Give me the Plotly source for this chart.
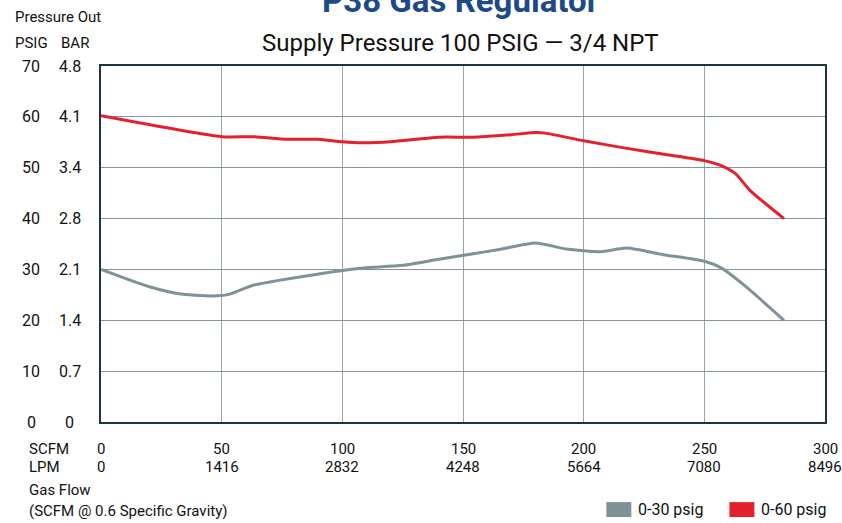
import plotly.graph_objects as go

FONT = "Liberation Sans Narrow, Roboto, sans-serif"

# Data
flow_30 = [0, 20, 34, 48, 53, 63, 73, 89, 100, 109, 125, 140, 153, 165, 180, 193, 207, 218, 233, 250, 257, 267, 283]
psig_30 = [30.0, 26.6, 25.1, 24.8, 25.1, 26.9, 27.8, 29.0, 29.8, 30.3, 30.8, 32.0, 33.0, 33.9, 35.2, 34.0, 33.5, 34.2, 32.9, 31.6, 30.3, 26.7, 20.0]

flow_60 = [0, 50, 63, 77, 90, 100, 109, 120, 140, 154, 170, 180, 184, 200, 218, 234, 250, 257, 263, 269, 283]
psig_60 = [60.2, 56.1, 56.1, 55.6, 55.6, 55.1, 54.9, 55.1, 56.0, 56.0, 56.5, 56.9, 56.8, 55.3, 53.8, 52.6, 51.4, 50.4, 48.8, 45.5, 40.0]

psig_ticks = [0, 10, 20, 30, 40, 50, 60, 70]
bar_ticks = ["0", "0.7", "1.4", "2.1", "2.8", "3.4", "4.1", "4.8"]
scfm_ticks = [0, 50, 100, 150, 200, 250, 300]
lpm_ticks = ["0", "1416", "2832", "4248", "5664", "7080", "8496"]

series_names = ["0-30 psig", "0-60 psig"]
series_colors = ["#7f9297", "#e3202d"]

fig = go.Figure()
fig.add_trace(go.Scatter(x=flow_30, y=psig_30, mode="lines", name=series_names[0],
                         line=dict(color=series_colors[0], width=3, shape="spline", smoothing=0.6)))
fig.add_trace(go.Scatter(x=flow_60, y=psig_60, mode="lines", name=series_names[1],
                         line=dict(color=series_colors[1], width=3, shape="spline", smoothing=0.6)))

TXT = "#111"
annotations = []
# Title (cut at top)
annotations.append(dict(text="<b>P38 Gas Regulator</b>", xref="paper", yref="paper", x=0.496, y=1.185,
                        xanchor="center", yanchor="middle", showarrow=False,
                        font=dict(family=FONT, size=33, color="#1d4a86")))
annotations.append(dict(text="Supply Pressure 100 PSIG — 3/4 NPT", xref="paper", yref="paper", x=0.496, y=1.064,
                        xanchor="center", yanchor="middle", showarrow=False,
                        font=dict(family=FONT, size=24, color=TXT)))
annotations.append(dict(text="Pressure Out", xref="paper", yref="paper", x=-0.122, y=1.138,
                        xanchor="left", yanchor="middle", showarrow=False,
                        font=dict(family=FONT, size=15, color=TXT)))
annotations.append(dict(text="PSIG", xref="paper", yref="paper", x=-0.122, y=1.064,
                        xanchor="left", yanchor="middle", showarrow=False,
                        font=dict(family=FONT, size=15, color=TXT)))
annotations.append(dict(text="BAR", xref="paper", yref="paper", x=-0.058, y=1.064,
                        xanchor="left", yanchor="middle", showarrow=False,
                        font=dict(family=FONT, size=15, color=TXT)))
for v, b in zip(psig_ticks, bar_ticks):
    annotations.append(dict(text=str(v), x=-0.096, xref="paper", y=v, yref="y",
                            xanchor="center", yanchor="middle", showarrow=False,
                            font=dict(family=FONT, size=16, color=TXT)))
    annotations.append(dict(text=b, x=-0.043, xref="paper", y=v, yref="y",
                            xanchor="center", yanchor="middle", showarrow=False,
                            font=dict(family=FONT, size=16, color=TXT)))
annotations.append(dict(text="SCFM", xref="paper", yref="paper", x=-0.102, y=-0.076,
                        xanchor="left", yanchor="middle", showarrow=False,
                        font=dict(family=FONT, size=15, color=TXT)))
annotations.append(dict(text="LPM", xref="paper", yref="paper", x=-0.102, y=-0.127,
                        xanchor="left", yanchor="middle", showarrow=False,
                        font=dict(family=FONT, size=15, color=TXT)))
for s, l in zip(scfm_ticks, lpm_ticks):
    annotations.append(dict(text=str(s), x=s, xref="x", y=-0.076, yref="paper",
                            xanchor="center", yanchor="middle", showarrow=False,
                            font=dict(family=FONT, size=15, color=TXT)))
    annotations.append(dict(text=l, x=s, xref="x", y=-0.127, yref="paper",
                            xanchor="center", yanchor="middle", showarrow=False,
                            font=dict(family=FONT, size=15, color=TXT)))
annotations.append(dict(text="Gas Flow", xref="paper", yref="paper", x=-0.102, y=-0.19,
                        xanchor="left", yanchor="middle", showarrow=False,
                        font=dict(family=FONT, size=15, color=TXT)))
annotations.append(dict(text="(SCFM @ 0.6 Specific Gravity)", xref="paper", yref="paper", x=-0.102, y=-0.249,
                        xanchor="left", yanchor="middle", showarrow=False,
                        font=dict(family=FONT, size=15, color=TXT)))

# Custom legend
shapes = []
legend_x = [0.698, 0.868]
for name, color, lx in zip(series_names, series_colors, legend_x):
    shapes.append(dict(type="rect", xref="paper", yref="paper", x0=lx, x1=lx + 0.0345,
                       y0=-0.267, y1=-0.225, fillcolor=color, line=dict(width=0)))
    annotations.append(dict(text=name, xref="paper", yref="paper", x=lx + 0.041, y=-0.246,
                            xanchor="left", yanchor="middle", showarrow=False,
                            font=dict(family=FONT, size=16, color=TXT)))

fig.update_layout(
    width=842, height=523,
    margin=dict(l=101, r=17, t=66, b=101),
    paper_bgcolor="white", plot_bgcolor="white",
    showlegend=False,
    annotations=annotations,
    shapes=shapes,
    xaxis=dict(range=[0, 300], dtick=50, tick0=0, showticklabels=False, ticks="",
               showgrid=True, gridcolor="#97a4a8", gridwidth=1, zeroline=False,
               showline=True, linecolor="#1e3440", linewidth=2, mirror=True),
    yaxis=dict(range=[0, 70], dtick=10, tick0=0, showticklabels=False, ticks="",
               showgrid=True, gridcolor="#85959a", gridwidth=1, zeroline=False,
               showline=True, linecolor="#1e3440", linewidth=2, mirror=True),
)

fig.write_html("out.html", config={"displayModeBar": False},
               post_script="document.body.style.margin='0';")
